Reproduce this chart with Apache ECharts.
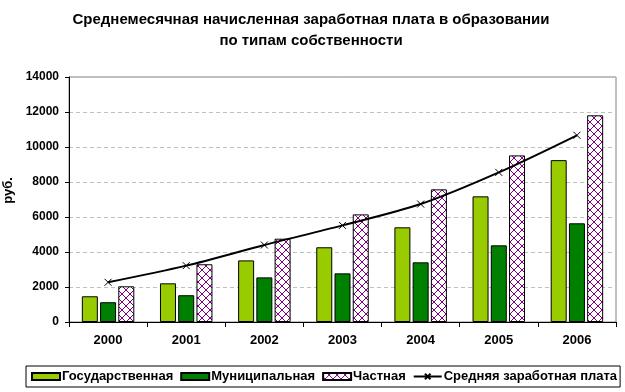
<!DOCTYPE html>
<html><head><meta charset="utf-8">
<script src="https://cdn.jsdelivr.net/npm/echarts@6/dist/echarts.min.js"></script>
<style>html,body{margin:0;padding:0;background:#fff}#c{width:625px;height:392px}</style>
</head><body><div id="c"></div>
<script>
var years = ['2000','2001','2002','2003','2004','2005','2006'];
var gos = [1470, 2210, 3520, 4270, 5410, 7180, 9250];
var mun = [1130, 1530, 2550, 2780, 3410, 4380, 5640];
var chast = [2040, 3300, 4760, 6150, 7580, 9520, 11810];
var avg = [2270, 3220, 4400, 5520, 6740, 8550, 10670];
var yTicks = [0, 2000, 4000, 6000, 8000, 10000, 12000, 14000];

var pc = document.createElement('canvas');
pc.width = 8; pc.height = 8;
var g = pc.getContext('2d');
g.fillStyle = '#fff'; g.fillRect(0,0,8,8);
g.strokeStyle = '#800080'; g.lineWidth = 1;
g.beginPath();
g.moveTo(0,8); g.lineTo(8,0);
g.moveTo(0,4); g.lineTo(4,8);
g.moveTo(4,0); g.lineTo(8,4);
g.stroke();

var chart = echarts.init(document.getElementById('c'));
var font = 'Liberation Sans, Arial, sans-serif';
chart.setOption({
  animation: false,
  textStyle: {fontFamily: font},
  title: {
    text: 'Среднемесячная начисленная заработная плата в образовании\nпо типам собственности',
    left: 306, top: 4, textAlign: 'center',
    textStyle: {fontSize: 15, fontWeight: 'bold', color: '#000', lineHeight: 21, fontFamily: font}
  },
  grid: {left: 69, right: 9, top: 77, bottom: 70, outerBoundsMode: 'none', containLabel: false,
         show: true, borderColor: '#808080', borderWidth: 1, backgroundColor: 'transparent'},
  legend: {
    left: 26, top: 366, padding: [4, 3, 4, 5],
    borderColor: '#000', borderWidth: 1, itemGap: 7, itemWidth: 28, itemHeight: 7,
    textStyle: {fontSize: 13, fontWeight: 'bold', color: '#000', fontFamily: font, padding: [0,0,0,-3]},
    data: [
      {name: 'Государственная', icon: 'rect'},
      {name: 'Муниципальная', icon: 'rect'},
      {name: 'Частная', icon: 'rect'},
      {name: 'Средняя заработная плата'}
    ]
  },
  xAxis: {
    type: 'category', data: years,
    axisLine: {lineStyle: {color: '#000', width: 1}},
    axisTick: {show: true, alignWithLabel: false, lineStyle: {color: '#000'}, length: 5},
    axisLabel: {fontSize: 13, fontWeight: 'bold', color: '#000', margin: 12}
  },
  yAxis: {
    type: 'value', min: yTicks[0], max: yTicks[yTicks.length-1], interval: 2000,
    name: 'руб.', nameLocation: 'middle', nameGap: 42, nameRotate: 90,
    nameTextStyle: {fontSize: 13, fontWeight: 'bold', color: '#000', padding: [0,0,0,18]},
    axisLine: {show: true, lineStyle: {color: '#000', width: 1}},
    axisTick: {show: true, length: 4, lineStyle: {color: '#000'}},
    axisLabel: {fontSize: 12, fontWeight: 'bold', color: '#000', margin: 10,
                formatter: function (v) { return String(v); }},
    splitLine: {show: true, lineStyle: {color: '#c0c0c0', type: [4, 3]}}
  },
  series: [
    {name: 'Государственная', type: 'bar', data: gos, barWidth: 16, barGap: '14%', barCategoryGap: '30%',
     itemStyle: {color: '#99cc00', borderColor: '#000', borderWidth: 1}},
    {name: 'Муниципальная', type: 'bar', data: mun, barWidth: 16, barGap: '14%',
     itemStyle: {color: '#008000', borderColor: '#000', borderWidth: 1}},
    {name: 'Частная', type: 'bar', data: chast, barWidth: 16, barGap: '14%',
     itemStyle: {color: {image: pc, repeat: 'repeat'}, borderColor: '#000', borderWidth: 1}},
    {name: 'Средняя заработная плата', type: 'line', data: avg, smooth: 0.3,
     symbol: 'path://M0,0L10,10M10,0L0,10', symbolSize: 7,
     lineStyle: {color: '#000', width: 2},
     itemStyle: {color: '#000', borderColor: '#000', borderWidth: 1}}
  ]
});
</script></body></html>
